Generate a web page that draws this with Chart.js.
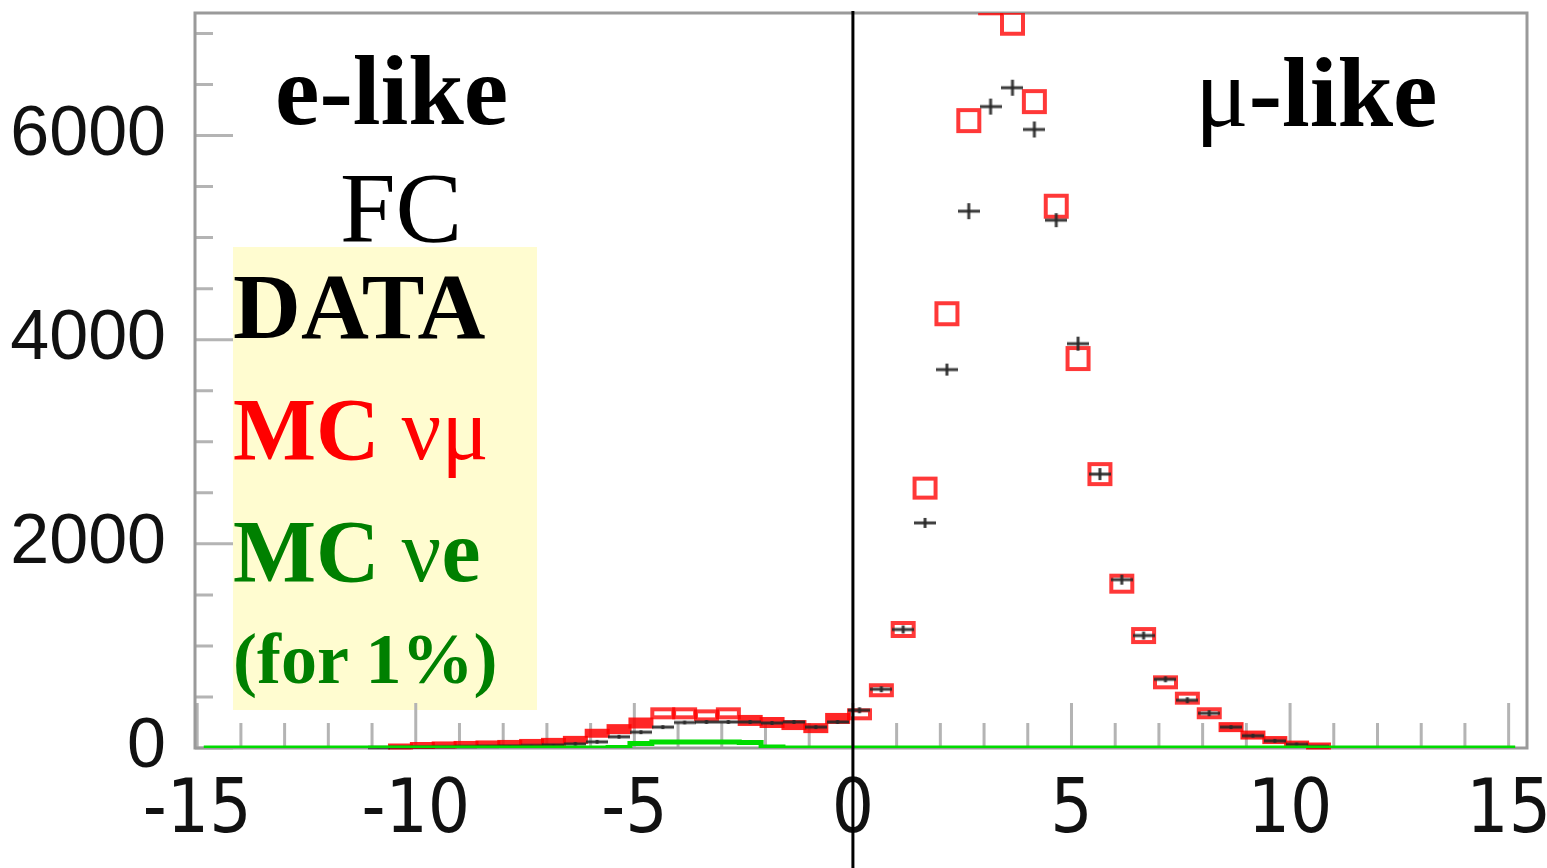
<!DOCTYPE html>
<html>
<head>
<meta charset="utf-8">
<script src="https://cdn.jsdelivr.net/npm/chart.js@4.4.0/dist/chart.umd.min.js"></script>
<style>
html, body { margin: 0; padding: 0; background: #fff; }
#wrap { position: relative; width: 1547px; height: 868px; }
#c { position: absolute; left: 0; top: 0; }
.t { position: absolute; font-family: 'Liberation Serif', 'Times New Roman', serif; line-height: 1; white-space: nowrap; }
#box { position: absolute; left: 233px; top: 247px; width: 304px; height: 463px; background: #fffcd0; }
</style>
</head>
<body>
<div id="wrap">
  <div id="box"></div>
  <canvas id="c" width="1547" height="868"></canvas>
  <div class="t" style="left:275px;top:41px;font-size:100px;font-weight:bold;">e-like</div>
  <div class="t" style="left:340px;top:158px;font-size:100px;">FC</div>
  <div class="t" style="left:1195px;top:43px;font-size:100px;">μ<b>-like</b></div>
  <div class="t" style="left:233px;top:259px;font-size:94px;font-weight:bold;color:#000;">DATA</div>
  <div class="t" style="left:233px;top:386px;font-size:88px;color:#ff0000;"><b>MC</b> νμ</div>
  <div class="t" style="left:233px;top:508px;font-size:88px;color:#008000;"><b>MC</b> ν<b>e</b></div>
  <div class="t" style="left:233px;top:623px;font-size:72px;font-weight:bold;color:#008000;">(for 1%)</div>
</div>
<script>
// centres des bins (largeur 0.5)
const binCenters = [
  -14.85, -14.35, -13.85, -13.35, -12.85, -12.35, -11.85, -11.35, -10.85, -10.35,
  -9.85, -9.35, -8.85, -8.35, -7.85, -7.35, -6.85, -6.35, -5.85, -5.35,
  -4.85, -4.35, -3.85, -3.35, -2.85, -2.35, -1.85, -1.35, -0.85, -0.35,
  0.15, 0.65, 1.15, 1.65, 2.15, 2.65, 3.15, 3.65, 4.15, 4.65,
  5.15, 5.65, 6.15, 6.65, 7.15, 7.65, 8.15, 8.65, 9.15, 9.65,
  10.15, 10.65, 11.15, 11.65, 12.15, 12.65, 13.15, 13.65, 14.15, 14.65,
  15.15
];

// DATA (croix noires)
const dataCounts = [
  null, null, null, null, null, null, null, null, 5, 8,
  10, 12, 15, 18, 20, 25, 30, 40, 60, 110,
  155, 205, 250, 255, 255, 255, 245, 255, 205, 255,
  370, 576, 1161, 2205, 3707, 5259, 6283, 6468, 6059, 5171,
  3961, 2683, 1649, 1102, 673, 468, 341, 205, 120, 70,
  35, 15, null, null, null, null, null, null, null, null,
  null
];

// MC numu (carrés rouges)
const mcNumu = [
  null, null, null, null, null, null, null, null, null, 15,
  25, 30, 35, 40, 45, 50, 60, 80, 145, 185,
  245, 340, 340, 320, 340, 270, 250, 225, 195, 290,
  330, 566, 1161, 2546, 4254, 6146, 7300, 7100, 6332, 5307,
  3815, 2683, 1610, 1102, 644, 488, 341, 205, 127, 78,
  39, 20, null, null, null, null, null, null, null, null,
  null
];

// MC nue pour 1% (ligne verte)
const mcNue = [
  0, 0, 0, 0, 0, 0, 0, 0, 0, 0,
  0, 0, 0, 0, 0, 0, 0, 0, 0, 5,
  45, 60, 60, 60, 60, 55, 10, 0, 0, 0,
  0, 0, 0, 0, 0, 0, 0, 0, 0, 0,
  0, 0, 0, 0, 0, 0, 0, 0, 0, 0,
  0, 0, 0, 0, 0, 0, 0, 0, 0, 0,
  0
];

const xTickValues = [-15, -10, -5, 0, 5, 10, 15];
const yTickValues = [0, 2000, 4000, 6000];

const toPoints = arr => binCenters.map((x, i) => ({ x: x, y: arr[i] }));

// boites rouges : hauteur qui grandit avec le contenu
const boxCache = {};
function mcBox(v) {
  const h = Math.round(5 + 20 * Math.min(1, Math.sqrt(v / 3000)));
  if (boxCache[h]) return boxCache[h];
  const w = 25, lw = 4;
  const c = document.createElement('canvas');
  c.width = w + 2;
  c.height = h + 2;
  const g = c.getContext('2d');
  if (h <= 2 * lw + 3) {
    g.fillStyle = 'rgba(255,0,0,0.85)';
    g.fillRect(1, 1, w, h);
  } else {
    g.strokeStyle = 'rgba(255,0,0,0.78)';
    g.lineWidth = lw;
    g.strokeRect(1 + lw / 2, 1 + lw / 2, w - lw, h - lw);
  }
  boxCache[h] = c;
  return c;
}

const crossCache = {};
function dataCross(v) {
  const half = Math.round(1 + Math.sqrt(v) * 0.09);
  if (crossCache[half]) return crossCache[half];
  const w = 22;
  const c = document.createElement('canvas');
  c.width = w;
  c.height = 2 * half + 4;
  const g = c.getContext('2d');
  const mid = c.height / 2;
  g.fillStyle = 'rgba(40,40,40,0.9)';
  g.fillRect(0, mid - 1.5, w, 3);
  g.fillRect(w / 2 - 1.5, mid - half, 3, 2 * half);
  crossCache[half] = c;
  return c;
}

// cadre, graduations vers l'intérieur et ligne x = 0
const rootFrame = {
  id: 'rootFrame',
  beforeDatasetsDraw(chart) {
    const { ctx, chartArea: a, scales: { x, y } } = chart;
    ctx.save();
    ctx.lineWidth = 3;
    ctx.strokeStyle = '#b4b4b4';
    ctx.beginPath();
    for (let v = -15; v <= 15; v++) {
      const px = x.getPixelForValue(v);
      const len = v % 5 === 0 ? 45 : 25;
      ctx.moveTo(px, a.bottom);
      ctx.lineTo(px, a.bottom - len);
    }
    for (let v = 0; v <= 7000; v += 500) {
      const py = y.getPixelForValue(v);
      const len = v % 2000 === 0 ? 38 : 18;
      ctx.moveTo(a.left, py);
      ctx.lineTo(a.left + len, py);
    }
    ctx.stroke();
    ctx.strokeStyle = '#9a9a9a';
    ctx.strokeRect(a.left, a.top, a.right - a.left, a.bottom - a.top);
    ctx.restore();
  },
  afterDatasetsDraw(chart) {
    const { ctx, chartArea: a, scales: { x } } = chart;
    const px = x.getPixelForValue(0);
    ctx.save();
    ctx.strokeStyle = '#000';
    ctx.lineWidth = 3;
    ctx.beginPath();
    ctx.moveTo(px, a.top - 2);
    ctx.lineTo(px, chart.height);
    ctx.stroke();
    ctx.restore();
  }
};

new Chart(document.getElementById('c'), {
  type: 'line',
  data: {
    datasets: [
      {
        label: 'MC νe',
        data: toPoints(mcNue),
        borderColor: '#00dc00',
        borderWidth: 5,
        stepped: 'middle',
        pointRadius: 0,
        fill: false
      },
      {
        label: 'DATA',
        data: toPoints(dataCounts),
        showLine: false,
        pointRadius: 12,
        pointStyle: ctx => ctx.raw && ctx.raw.y != null ? dataCross(ctx.raw.y) : 'circle',
        clip: { left: 5, right: 5, top: 0, bottom: 8 }
      },
      {
        label: 'MC νμ',
        data: toPoints(mcNumu),
        showLine: false,
        pointRadius: 12,
        pointStyle: ctx => ctx.raw && ctx.raw.y != null ? mcBox(ctx.raw.y) : 'circle',
        clip: { left: 5, right: 5, top: 0, bottom: 8 }
      }
    ]
  },
  options: {
    responsive: false,
    animation: false,
    devicePixelRatio: 1,
    layout: { padding: { top: 10, right: 20, left: 0, bottom: 0 } },
    plugins: {
      legend: { display: false },
      tooltip: { enabled: false }
    },
    scales: {
      x: {
        type: 'linear',
        min: -15.05,
        max: 15.42,
        grid: { display: false, drawTicks: false },
        border: { display: false },
        ticks: {
          padding: 20,
          autoSkip: false,
          maxRotation: 0,
          color: '#111',
          font: { family: "'Liberation Sans Narrow', 'DejaVu Sans Condensed', sans-serif", size: 74 },
          callback: v => String(v)
        },
        afterBuildTicks: s => { s.ticks = xTickValues.map(v => ({ value: v })); },
        afterFit: s => { s.height = 120; s.paddingLeft = 0; s.paddingRight = 0; }
      },
      y: {
        type: 'linear',
        min: 0,
        max: 7200,
        grid: { display: false, drawTicks: false },
        border: { display: false },
        ticks: {
          padding: 29,
          color: '#111',
          font: { family: "'Liberation Sans', Arial, sans-serif", size: 70 },
          callback: v => String(v)
        },
        afterBuildTicks: s => { s.ticks = yTickValues.map(v => ({ value: v })); },
        afterFit: s => { s.width = 195; s.paddingTop = 0; s.paddingBottom = 0; }
      }
    }
  },
  plugins: [rootFrame]
});
</script>
</body>
</html>
